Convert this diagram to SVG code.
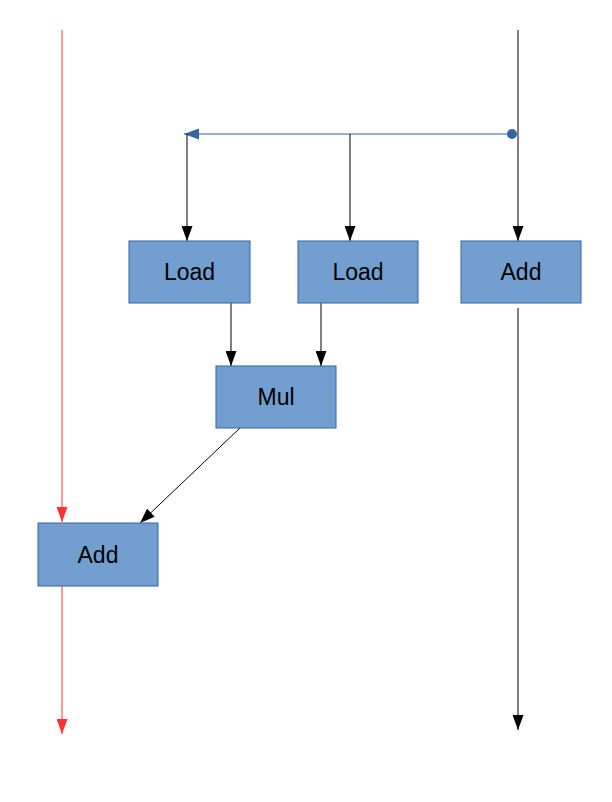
<svg xmlns="http://www.w3.org/2000/svg" width="612" height="802" viewBox="0 0 612 802">
<style>
.box{fill:#729fcf;stroke:#3465a4;stroke-width:1}
.lbl{font-family:"Liberation Sans",Arial,sans-serif;font-size:23px;fill:#000;text-anchor:middle;dominant-baseline:central}
.k{stroke:#000;stroke-width:1;fill:none}
.r{stroke:#ff3333;stroke-width:1;fill:none}
.b{stroke:#3465a4;stroke-width:1.2;fill:none}
</style>
<defs>
<marker id="ak" viewBox="0 0 10 10" refX="10" refY="5" markerWidth="15" markerHeight="11" markerUnits="userSpaceOnUse" orient="auto" preserveAspectRatio="none"><path d="M0,0L10,5L0,10z" fill="#000"/></marker>
<marker id="ar" viewBox="0 0 10 10" refX="10" refY="5" markerWidth="15" markerHeight="11" markerUnits="userSpaceOnUse" orient="auto" preserveAspectRatio="none"><path d="M0,0L10,5L0,10z" fill="#ff3333"/></marker>
<marker id="ab" viewBox="0 0 10 10" refX="10" refY="5" markerWidth="15" markerHeight="11" markerUnits="userSpaceOnUse" orient="auto" preserveAspectRatio="none"><path d="M0,0L10,5L0,10z" fill="#3465a4"/></marker>
</defs>
<g id="connectors">
<line class="r" x1="62" y1="30" x2="62" y2="522" marker-end="url(#ar)"/>
<line class="r" x1="62" y1="586" x2="62" y2="734" marker-end="url(#ar)"/>
<line class="k" x1="518" y1="30" x2="518" y2="241" marker-end="url(#ak)"/>
<line class="k" x1="518" y1="308" x2="518" y2="730" marker-end="url(#ak)"/>
<line class="b" x1="512" y1="134" x2="184" y2="134" marker-end="url(#ab)"/>
<circle cx="512" cy="134" r="5" fill="#3465a4"/>
<line class="k" x1="187" y1="134" x2="187" y2="241" marker-end="url(#ak)"/>
<line class="k" x1="350" y1="134" x2="350" y2="241" marker-end="url(#ak)"/>
<line class="k" x1="231" y1="303" x2="231" y2="366" marker-end="url(#ak)"/>
<line class="k" x1="321" y1="303" x2="321" y2="366" marker-end="url(#ak)"/>
<line class="k" x1="240" y1="428" x2="140" y2="523" marker-end="url(#ak)"/>
</g>
<g id="load1"><rect class="box" x="129" y="241" width="121" height="62"/><text class="lbl" x="189.5" y="272">Load</text></g>
<g id="load2"><rect class="box" x="298" y="241" width="120" height="62"/><text class="lbl" x="358" y="272">Load</text></g>
<g id="add1"><rect class="box" x="461" y="241" width="120" height="62"/><text class="lbl" x="521" y="272">Add</text></g>
<g id="mul"><rect class="box" x="216" y="366" width="120" height="62"/><text class="lbl" x="276" y="397">Mul</text></g>
<g id="add2"><rect class="box" x="38" y="523" width="120" height="63"/><text class="lbl" x="98" y="554.5">Add</text></g>
</svg>
